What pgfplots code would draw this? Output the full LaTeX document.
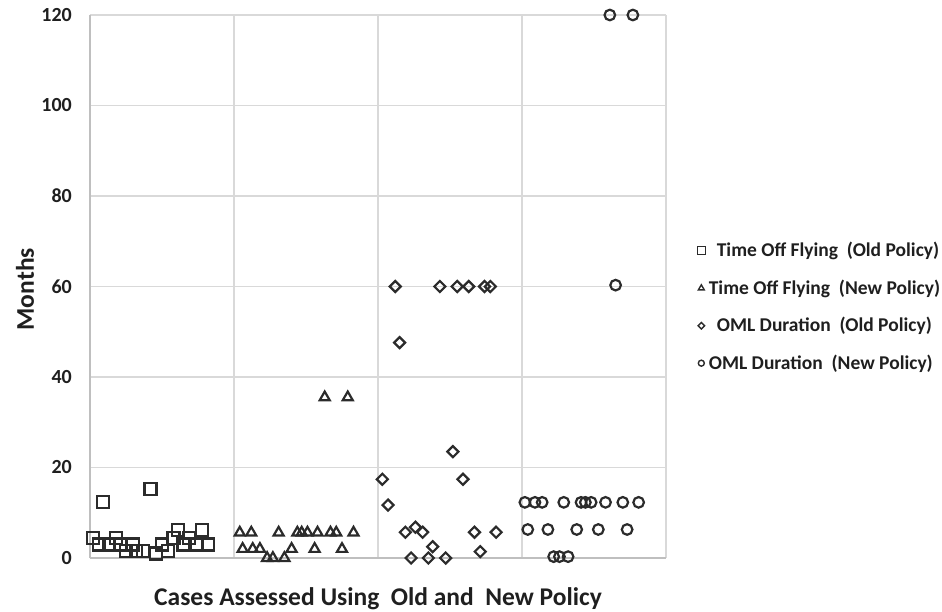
\documentclass[border=0pt]{standalone}
\usepackage{pgfplots}
\pgfplotsset{compat=1.18}
\usepackage{fontspec}
\setmainfont{Carlito}

\definecolor{gridc}{HTML}{D9D9D9}
\definecolor{axisc}{HTML}{BFBFBF}
\definecolor{markc}{HTML}{2B2B2B}
\definecolor{textc}{HTML}{1F1F1F}

\pgfplotsset{
  dotleg/.style={legend image code/.code={\draw[##1] plot coordinates {(0pt,6pt)};}},
}

\begin{document}
\begin{tikzpicture}
\useasboundingbox (-90pt,-53pt) rectangle (852pt,558pt);
\begin{axis}[
  scale only axis, width=576pt, height=543pt,
  xmin=0, xmax=4, ymin=0, ymax=120,
  xtick={1,2,3,4}, xticklabels={},
  ytick={0,20,...,120},
  major tick length=0pt,
  grid=major, grid style={draw=gridc, line width=1.6pt},
  axis x line*=bottom, axis y line*=left,
  axis line style={-, draw=axisc, line width=2.2pt},
  clip=false,
  /pgf/number format/assume math mode=true,
  yticklabel style={font=\bfseries\fontsize{20}{24}\selectfont, text=textc, inner sep=0pt, xshift=-18pt},
  xlabel={Cases Assessed Using~ Old and~ New Policy},
  xlabel style={font=\bfseries\fontsize{25.5}{30}\selectfont, text=textc, at={(axis description cs:0.5,-0.0534)}, anchor=north, inner sep=0pt},
  ylabel={Months},
  ylabel style={font=\bfseries\fontsize{25.5}{30}\selectfont, text=textc, at={(axis description cs:-0.113,0.495)}, anchor=center, inner sep=0pt},
  legend cell align=left,
  legend style={at={(axis description cs:1.0544,0.5807)}, anchor=north west, draw=none, fill=none,
    inner sep=0pt, outer sep=0pt, row sep=18.5pt, column sep=3.5pt,
    font=\bfseries\fontsize{19.5}{23}\selectfont,
    cells={anchor=base west},
    nodes={inner sep=0pt, text height=14pt, text depth=5pt, text=textc}},
]

% Time off flying, old policy
\addplot[only marks, mark=square, mark size=6pt, color=markc, mark options={line width=2.2pt, solid}, forget plot] coordinates {
  (0.02,4.5)(0.06,3)(0.09,12.3)(0.13,3)(0.18,4.5)(0.21,3)(0.25,1.5)(0.30,3)
  (0.32,1.5)(0.37,1.5)(0.42,15.2)(0.46,1)(0.50,3)(0.54,1.5)(0.58,4.5)(0.61,6.2)
  (0.65,3)(0.69,4.5)(0.74,3)(0.78,6.2)(0.82,3)
};

% Time off flying, new policy
\addplot[only marks, mark=triangle, mark size=5.8pt, color=markc, mark options={line width=2.2pt, solid}, forget plot] coordinates {
  (1.04,5.6)(1.12,5.6)(1.31,5.6)(1.44,5.6)(1.47,5.6)(1.51,5.6)(1.58,5.6)(1.67,5.6)(1.71,5.6)(1.83,5.6)
  (1.06,2)(1.13,2)(1.18,2)(1.40,2)(1.56,2)(1.75,2)
  (1.23,0)(1.27,0)(1.35,0)
  (1.63,35.5)(1.79,35.5)
};

% OML duration, old policy
\addplot[only marks, mark=square, mark size=3.9pt, color=markc, mark options={rotate=45, line width=2.2pt, solid}, forget plot] coordinates {
  (2.03,17.4)(2.07,11.7)(2.12,60)(2.15,47.6)(2.19,5.7)(2.23,0)(2.26,6.8)(2.31,5.7)
  (2.35,0)(2.38,2.5)(2.43,60)(2.47,0)(2.52,23.5)(2.55,60)(2.59,17.4)(2.63,60)
  (2.67,5.7)(2.71,1.4)(2.74,60)(2.78,60)(2.82,5.7)
};

% OML duration, new policy
\addplot[only marks, mark=o, mark size=5.3pt, color=markc, mark options={line width=2.2pt, solid}, forget plot] coordinates {
  (3.02,12.3)(3.04,6.3)(3.09,12.3)(3.14,12.3)(3.18,6.3)(3.22,0.3)(3.26,0.3)(3.29,12.3)
  (3.32,0.3)(3.38,6.3)(3.41,12.3)(3.44,12.3)(3.48,12.3)(3.53,6.3)(3.58,12.3)(3.61,120)
  (3.65,60.3)(3.70,12.3)(3.73,6.3)(3.77,120)(3.81,12.3)
};

\addlegendimage{only marks, mark=square, mark size=4pt, color=markc, mark options={line width=1.5pt, solid}, dotleg}
\addlegendentry{\hspace{8pt}Time Off Flying~ (Old Policy)}
\addlegendimage{only marks, mark=triangle, mark size=3.4pt, color=markc, mark options={line width=1.4pt, solid}, dotleg}
\addlegendentry{Time Off Flying~ (New Policy)}
\addlegendimage{only marks, mark=square, mark size=2.3pt, color=markc, mark options={rotate=45, line width=1.4pt, solid}, dotleg}
\addlegendentry{\hspace{8pt}OML Duration~ (Old Policy)}
\addlegendimage{only marks, mark=o, mark size=3pt, color=markc, mark options={line width=1.4pt, solid}, dotleg}
\addlegendentry{OML Duration~ (New Policy)}
\end{axis}
\end{tikzpicture}
\end{document}
